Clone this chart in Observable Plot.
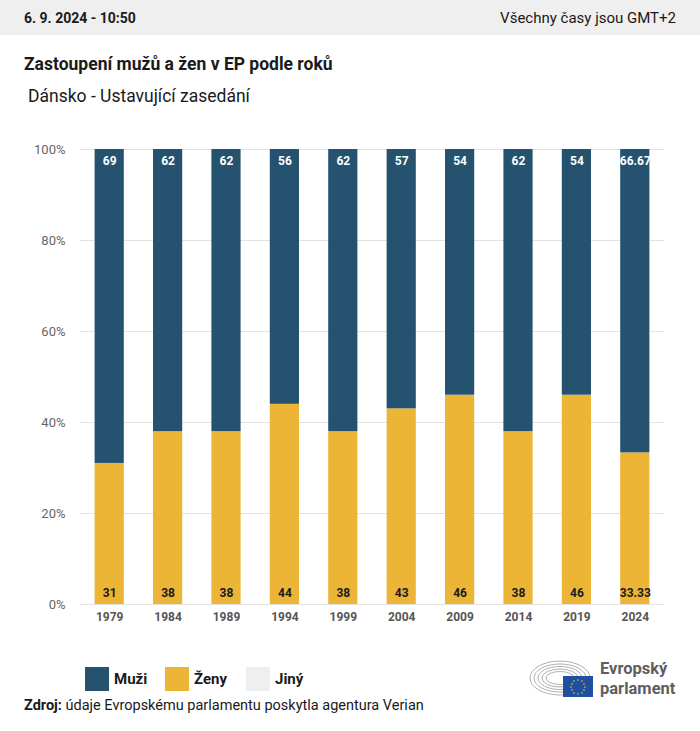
<!DOCTYPE html>
<html>
<head>
<meta charset="utf-8">
<script src="https://cdn.jsdelivr.net/npm/d3@7"></script>
<script src="https://cdn.jsdelivr.net/npm/@observablehq/plot@0.6"></script>
<style>
  body { margin: 0; width: 700px; height: 731px; background: #fff; font-family: Roboto, "Noto Sans", sans-serif; color: #1a1a1a; overflow: hidden; position: relative; }
  .hdr { height: 35px; background: #efefef; display: flex; justify-content: space-between; align-items: center; padding: 0 24px; }
  .hdr .l { font-weight: 700; font-size: 14px; }
  .hdr .r { font-size: 15px; }
  .title { position: absolute; left: 24px; top: 54px; font-size: 17.5px; font-weight: 700; }
  .sub { position: absolute; left: 28px; top: 86px; font-size: 17.5px; }
  #chart { position: absolute; left: 0; top: 130px; }
  .legend { position: absolute; left: 0; top: 667px; width: 400px; height: 24px; font-size: 15px; font-weight: 700; }
  .legend .sw { position: absolute; top: 0; width: 24px; height: 24px; }
  .legend .tx { position: absolute; top: 3px; }
  .src { position: absolute; left: 24px; top: 697px; font-size: 14.5px; }
  .src b { font-weight: 700; }
  .logo { position: absolute; left: 528px; top: 656px; }
</style>
</head>
<body>
<div class="hdr"><span class="l">6. 9. 2024 - 10:50</span><span class="r">Všechny časy jsou GMT+2</span></div>
<div class="title">Zastoupení mužů a žen v EP podle roků</div>
<div class="sub">Dánsko - Ustavující zasedání</div>
<div id="chart"></div>
<div class="legend" id="legend"></div>
<div class="src"><b>Zdroj:</b> údaje Evropskému parlamentu poskytla agentura Verian</div>
<div class="logo">
  <svg width="160" height="45" viewBox="0 0 160 45">
    <g fill="none" stroke="#9a9a9a" stroke-width="0.8">
      <ellipse cx="32" cy="22" rx="30" ry="17"/>
      <ellipse cx="32" cy="22" rx="26" ry="14"/>
      <ellipse cx="32" cy="22" rx="22" ry="11.5"/>
      <ellipse cx="32" cy="22" rx="18" ry="9"/>
      <ellipse cx="32" cy="22" rx="14" ry="6.5"/>
    </g>
    <rect x="35" y="20" width="30" height="21" fill="#1f4fa0"/>
    <g fill="#f5d000">
      <circle cx="50" cy="24" r="0.8"/><circle cx="54" cy="25" r="0.8"/><circle cx="56" cy="28" r="0.8"/>
      <circle cx="57" cy="31" r="0.8"/><circle cx="56" cy="34" r="0.8"/><circle cx="54" cy="37" r="0.8"/>
      <circle cx="50" cy="38" r="0.8"/><circle cx="46" cy="37" r="0.8"/><circle cx="44" cy="34" r="0.8"/>
      <circle cx="43" cy="31" r="0.8"/><circle cx="44" cy="28" r="0.8"/><circle cx="46" cy="25" r="0.8"/>
    </g>
    <text x="72" y="18" font-size="16.5" font-weight="700" fill="#5e5e5e">Evropský</text>
    <text x="72" y="38" font-size="16.5" font-weight="700" fill="#5e5e5e">parlament</text>
  </svg>
</div>
<script>
const years = ["1979","1984","1989","1994","1999","2004","2009","2014","2019","2024"];
const muzi = [69, 62, 62, 56, 62, 57, 54, 62, 54, 66.67];
const zeny = [31, 38, 38, 44, 38, 43, 46, 38, 46, 33.33];
const jiny = [0, 0, 0, 0, 0, 0, 0, 0, 0, 0];
const genders = ["Muži", "Ženy", "Jiný"];
const colors = ["#25536f", "#edb535", "#eeeff1"];
const yTicks = [0, 20, 40, 60, 80, 100];

const table = [];
years.forEach((yr, i) => {
  table.push({year: yr, gender: "Ženy", value: zeny[i]});
  table.push({year: yr, gender: "Muži", value: muzi[i]});
  table.push({year: yr, gender: "Jiný", value: jiny[i]});
});
const topLabels = years.map((yr, i) => ({year: yr, label: String(muzi[i]), y: 100}));
const botLabels = years.map((yr, i) => ({year: yr, label: String(zeny[i]), y: 0}));

const chart = Plot.plot({
  width: 700,
  height: 510,
  marginTop: 19,
  marginBottom: 36,
  marginLeft: 80,
  marginRight: 36,
  style: {fontFamily: "Roboto, 'Noto Sans', sans-serif", background: "transparent"},
  x: {domain: years, paddingInner: 0.5, paddingOuter: 0.25, round: false, label: null, tickSize: 0, tickPadding: 8},
  y: {domain: [0, 100], ticks: yTicks, tickFormat: d => d + "%", label: null, tickSize: 0, tickPadding: 15},
  color: {domain: genders, range: colors},
  marks: [
    Plot.gridY(yTicks, {stroke: "#e3e3e3", strokeOpacity: 1, strokeWidth: 1}),
    Plot.barY(table, {x: "year", y: "value", fill: "gender", order: null}),
    Plot.text(topLabels, {x: "year", y: "y", text: "label", dy: 12, fill: "#ffffff", fontWeight: 700, fontSize: 12}),
    Plot.text(botLabels, {x: "year", y: "y", text: "label", dy: -11, fill: "#1a1a1a", fontWeight: 700, fontSize: 12})
  ]
});
d3.select(chart).selectAll('[aria-label="y-axis tick label"]').attr("fill", "#666").style("font-size", "13px");
d3.select(chart).selectAll('[aria-label="x-axis tick label"]').attr("fill", "#555").style("font-size", "12px").style("font-weight", "700");
document.getElementById("chart").appendChild(chart);

const lg = document.getElementById("legend");
const swX = [85, 165, 246];
genders.forEach((g, i) => {
  const sw = document.createElement("div");
  sw.className = "sw";
  sw.style.left = swX[i] + "px";
  sw.style.background = colors[i];
  lg.appendChild(sw);
  const tx = document.createElement("span");
  tx.className = "tx";
  tx.style.left = (swX[i] + 29) + "px";
  tx.textContent = g;
  lg.appendChild(tx);
});
</script>
</body>
</html>
